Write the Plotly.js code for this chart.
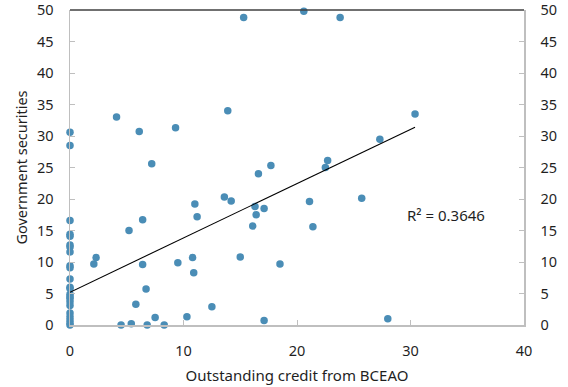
<!DOCTYPE html>
<html>
<head>
<meta charset="utf-8">
<script src="https://cdn.plot.ly/plotly-3.0.1.min.js"></script>
<style>html,body{margin:0;padding:0;background:#fff;}#chart{width:568px;height:387px;}</style>
</head>
<body>
<div id="chart"></div>
<script>
// Outstanding credit from BCEAO (x) vs Government securities (y)
const creditX = [
  0, 0, 0, 0, 0, 0, 0, 0, 0, 0, 0, 0, 0, 0, 0, 0, 0, 0, 0, 0, 0, 0, 0,
  2.1, 2.3, 4.1, 4.5, 5.2, 5.4, 5.8, 6.1, 6.4, 6.4, 6.7, 6.8, 7.2, 7.5, 8.3,
  9.3, 9.5, 10.3, 10.8, 10.9, 11.0, 11.2, 12.5, 13.6, 13.9, 14.2, 15.0, 15.3,
  16.1, 16.3, 16.4, 16.6, 17.1, 17.1, 17.7, 18.5, 20.6, 21.1, 21.4, 22.5, 22.7,
  23.8, 25.7, 27.3, 28.0, 30.4
];
const govSecY = [
  30.6, 28.5, 16.6, 14.4, 14.1, 12.7, 12.4, 11.6, 9.4, 9.1, 7.3, 6.0, 5.8, 4.9, 4.5, 4.2, 3.7, 3.1, 1.9, 1.3, 0.8, 0.3, 0,
  9.7, 10.7, 33.0, 0, 15.0, 0.2, 3.3, 30.7, 16.7, 9.6, 5.7, 0, 25.6, 1.2, 0,
  31.3, 9.9, 1.3, 10.7, 8.3, 19.2, 17.2, 2.9, 20.3, 34.0, 19.7, 10.8, 48.8,
  15.7, 18.8, 17.5, 24.0, 18.5, 0.7, 25.3, 9.7, 49.8, 19.6, 15.6, 25.0, 26.1,
  48.8, 20.1, 29.5, 1.0, 33.5
];
const axisTicks = [0, 5, 10, 15, 20, 25, 30, 35, 40, 45, 50];
const xTicks = [0, 10, 20, 30, 40];
const r2Label = "R\u00b2 = 0.3646";
// Linear trendline as drawn in the reference
const trendIntercept = 5.2;
const trendSlope = 0.862;

const xMin = Math.min(...creditX), xMax = Math.max(...creditX);
const trendX = [xMin, xMax];
const trendY = trendX.map(v => trendIntercept + trendSlope * v);

const font = "Noto Sans, Open Sans, sans-serif";
const txt = "#1f1f1f";

const traces = [
  {x: creditX, y: govSecY, type: "scatter", mode: "markers", cliponaxis: false,
   marker: {color: "#4a8db6", size: 7.5}, hoverinfo: "x+y", showlegend: false},
  {x: trendX, y: trendY, type: "scatter", mode: "lines", yaxis: "y2",
   line: {color: "#000", width: 1.1}, hoverinfo: "skip", showlegend: false}
];

const layout = {
  width: 568, height: 387,
  margin: {l: 70, r: 44, t: 10, b: 62},
  paper_bgcolor: "#fff", plot_bgcolor: "#fff",
  font: {family: font, size: 14.5, color: txt},
  showlegend: false,
  xaxis: {range: [0, 40], tickvals: xTicks, ticks: "inside", ticklen: 5, tickcolor: "#bfbfbf",
    showline: true, linecolor: "#bfbfbf", linewidth: 1.5, showgrid: false, zeroline: false,
    ticklabelstandoff: 12, ticklabeloverflow: "allow",
    title: {text: "Outstanding credit from BCEAO", font: {size: 15, color: txt}, standoff: 11}},
  yaxis: {range: [0, 50], tickvals: axisTicks, ticks: "inside", ticklen: 5, tickcolor: "#bfbfbf",
    showline: true, linecolor: "#bfbfbf", linewidth: 1.5, showgrid: false, zeroline: false,
    ticklabelstandoff: 12, ticklabeloverflow: "allow",
    title: {text: "Government securities", font: {size: 14.5, color: txt}, standoff: 6}},
  yaxis2: {range: [0, 50], overlaying: "y", side: "right", tickvals: axisTicks, ticks: "inside", ticklen: 5,
    tickcolor: "#bfbfbf", showline: true, linecolor: "#bfbfbf", linewidth: 1.5, showgrid: false,
    zeroline: false, ticklabelstandoff: 12, ticklabeloverflow: "allow"},
  shapes: [{type: "line", xref: "paper", yref: "paper", x0: 0, x1: 1, y0: 1, y1: 1,
    line: {color: "#404040", width: 1.6}}],
  annotations: [{text: r2Label, xref: "x", yref: "y", x: 33.1, y: 17.5, showarrow: false,
    font: {size: 15, color: txt}}]
};

Plotly.newPlot("chart", traces, layout, {displayModeBar: false, staticPlot: true});
</script>
</body>
</html>
